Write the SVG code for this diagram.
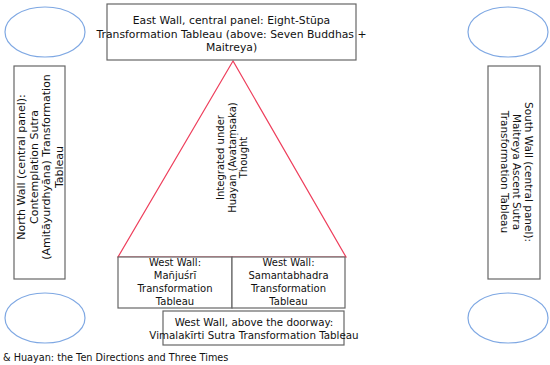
<svg xmlns="http://www.w3.org/2000/svg" width="550" height="365" viewBox="0 0 550 365">
<style>
.box{fill:#fff;stroke:#666;stroke-width:1.2}
.ell{fill:#fff;stroke:#7fa8e3;stroke-width:1.2}
.tri{fill:none;stroke:#ee3f5c;stroke-width:1.2}
text{font-family:"DejaVu Sans",sans-serif;font-size:10px;fill:#111}
.c{text-anchor:middle}
</style>
<rect width="550" height="365" fill="#fff"/>
<g id="connectors">
<polygon class="tri" points="233,61 118,257 346,257"/>
</g>
<g id="ellipse-tl"><ellipse class="ell" cx="45" cy="32" rx="40" ry="25"/></g>
<g id="ellipse-tr"><ellipse class="ell" cx="508" cy="32" rx="40" ry="25"/></g>
<g id="ellipse-bl"><ellipse class="ell" cx="45" cy="318" rx="40" ry="25"/></g>
<g id="ellipse-br"><ellipse class="ell" cx="508" cy="318" rx="40" ry="25"/></g>
<g id="east" style="font-size:10.8px">
<rect class="box" x="107" y="4" width="249" height="56"/>
<text class="c" x="231.5" y="24" style="font-size:10.8px">East Wall, central panel: Eight-Stūpa</text>
<text class="c" x="231.5" y="37.5" style="font-size:10.8px">Transformation Tableau (above: Seven Buddhas +</text>
<text class="c" x="231.5" y="51" style="font-size:10.8px">Maitreya)</text>
</g>
<g id="north">
<rect class="box" x="14" y="66" width="51" height="213"/>
<g transform="translate(40,167) rotate(-90)">
<text class="c" x="0" y="-15.3" style="font-size:11px">North Wall (central panel):</text>
<text class="c" x="0" y="-2.5" style="font-size:11px">Contemplation Sutra</text>
<text class="c" x="0" y="10.3" style="font-size:11px">(Amitāyurdhyāna) Transformation</text>
<text class="c" x="0" y="23.1" style="font-size:11px">Tableau</text>
</g>
</g>
<g id="south">
<rect class="box" x="488" y="66" width="52" height="213"/>
<g transform="translate(516.5,172) rotate(90)">
<text class="c" x="0" y="-8" style="font-size:10.5px">South Wall (central panel):</text>
<text class="c" x="0" y="3.7" style="font-size:10.5px">Maitreya Ascent Sutra</text>
<text class="c" x="0" y="15.4" style="font-size:10.5px">Transformation Tableau</text>
</g>
</g>
<g id="huayan">
<g transform="translate(232,157.5) rotate(-90)">
<text class="c" x="0" y="-8">Integrated under</text>
<text class="c" x="0" y="3.5">Huayan (Avataṃsaka)</text>
<text class="c" x="0" y="15">Thought</text>
</g>
</g>
<g id="manjusri">
<rect class="box" x="118" y="257" width="114" height="51"/>
<text class="c" x="175" y="266">West Wall:</text>
<text class="c" x="175" y="279">Mañjuśrī</text>
<text class="c" x="175" y="292">Transformation</text>
<text class="c" x="175" y="305">Tableau</text>
</g>
<g id="samantabhadra">
<rect class="box" x="232" y="257" width="113" height="51"/>
<text class="c" x="288.5" y="266">West Wall:</text>
<text class="c" x="288.5" y="279">Samantabhadra</text>
<text class="c" x="288.5" y="292">Transformation</text>
<text class="c" x="288.5" y="305">Tableau</text>
</g>
<g id="doorway">
<rect class="box" x="163" y="311" width="181" height="34"/>
<text class="c" x="254" y="326" style="font-size:10.3px">West Wall, above the doorway:</text>
<text class="c" x="254" y="338.5" style="font-size:10.3px">Vimalakīrti Sutra Transformation Tableau</text>
</g>
<text x="3" y="361" style="font-size:9.7px">&amp; Huayan: the Ten Directions and Three Times</text>
</svg>
